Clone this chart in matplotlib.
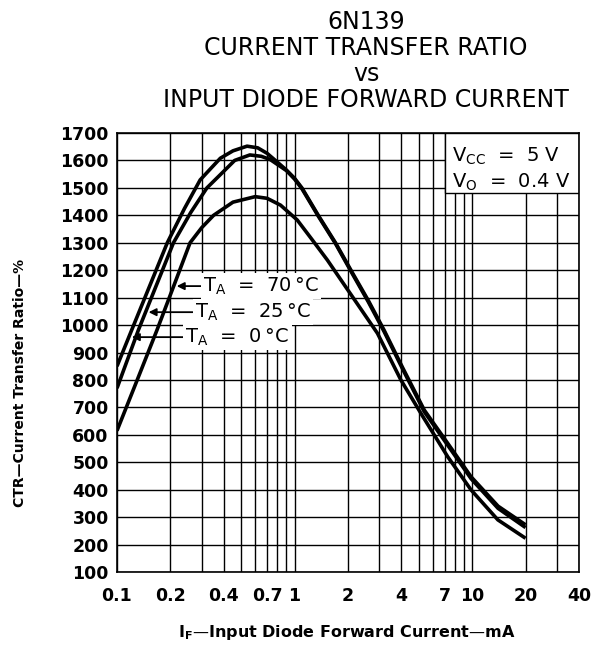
import numpy as np
import matplotlib
matplotlib.use('Agg')
import matplotlib.pyplot as plt
from matplotlib.ticker import LogLocator, FixedLocator, NullFormatter
from matplotlib.patches import Rectangle

# (IF in mA, CTR in %)
if_0c = [0.1, 0.121, 0.15, 0.192, 0.24, 0.294, 0.34, 0.382, 0.45, 0.54, 0.62, 0.70, 0.78,
         0.9, 1.0, 1.1, 1.36, 1.7, 2.12, 2.6, 3.19, 4.06, 5.38, 7.29, 9.87, 14.0, 20.0]
ctr_0c = [850, 982, 1130, 1300, 1425, 1529, 1573, 1608, 1635, 1652, 1646, 1626, 1600,
          1565, 1535, 1500, 1400, 1300, 1190, 1090, 982, 845, 690, 569, 447, 340, 272]

if_25c = [0.1, 0.132, 0.17, 0.208, 0.26, 0.321, 0.39, 0.46, 0.56, 0.65, 0.73,
          0.9, 1.0, 1.1, 1.36, 1.7, 2.12, 2.6, 3.19, 4.06, 5.38, 7.29, 9.87, 14.0, 20.0]
ctr_25c = [770, 982, 1159, 1300, 1410, 1500, 1554, 1600, 1620, 1615, 1603,
           1563, 1532, 1497, 1397, 1297, 1186, 1085, 977, 840, 684, 562, 440, 332, 262]

if_70c = [0.1, 0.13, 0.168, 0.21, 0.258, 0.3, 0.35, 0.45, 0.6, 0.7, 0.834, 1.035, 1.25,
          1.53, 2.12, 2.93, 3.97, 5.15, 7.29, 9.87, 13.97, 20.0]
ctr_70c = [615, 800, 982, 1147, 1300, 1355, 1400, 1448, 1468, 1462, 1437, 1383, 1313,
           1237, 1103, 970, 800, 678, 520, 399, 290, 223]

x_ticks = [0.1, 0.2, 0.4, 0.7, 1, 2, 4, 7, 10, 20, 40]
x_tick_labels = ['0.1', '0.2', '0.4', '0.7', '1', '2', '4', '7', '10', '20', '40']
y_ticks = list(range(100, 1800, 100))

labels = [r'$\mathregular{T_A}$  =  70' + '\u2009°C',
          r'$\mathregular{T_A}$  =  25' + '\u2009°C',
          r'$\mathregular{T_A}$  =  0' + '\u2009°C']
label_ctr = [1142, 1047, 956]

plt.rcParams['font.family'] = 'DejaVu Sans'
plt.rcParams['mathtext.default'] = 'regular'

fig = plt.figure(figsize=(5.92, 6.47), dpi=100)
ax = fig.add_axes([117/592, 1-572/647, (579-117)/592, (572-133)/647])

ax.set_xscale('log')
ax.set_xlim(0.1, 40)
ax.set_ylim(100, 1700)
ax.set_axisbelow(True)

ax.xaxis.set_major_locator(FixedLocator(x_ticks))
ax.set_xticklabels(x_tick_labels)
ax.xaxis.set_minor_locator(LogLocator(base=10, subs=range(1, 10)))
ax.xaxis.set_minor_formatter(NullFormatter())
ax.set_yticks(y_ticks)

ax.grid(True, which='both', axis='x', color='black', lw=1.0)
ax.grid(True, which='major', axis='y', color='black', lw=1.0)
ax.tick_params(which='both', length=0)
ax.tick_params(axis='x', pad=11)
ax.tick_params(axis='y', pad=6)
for t in ax.get_xticklabels() + ax.get_yticklabels():
    t.set_fontweight('bold')
    t.set_fontsize(12.5)
for s in ax.spines.values():
    s.set_color('black')
    s.set_linewidth(1.2)

curves = [(if_70c, ctr_70c), (if_25c, ctr_25c), (if_0c, ctr_0c)]
for xs, ys in curves:
    ax.plot(xs, ys, color='black', lw=2.6, solid_capstyle='butt', zorder=2)

# condition box in the upper right corner
ax.add_patch(Rectangle((7, 1480), 33, 220, facecolor='white', edgecolor='black',
                       lw=1.0, zorder=1.5))
ax.text(7.7, 1615, r'$\mathregular{V_{CC}}$  =  5 V', fontsize=14, va='center', ha='left', zorder=3)
ax.text(7.7, 1520, r'$\mathregular{V_{O}}$  =  0.4 V', fontsize=14, va='center', ha='left', zorder=3)

# temperature labels with arrows to their curves (arrow tip on rising part)
text_x = [0.305, 0.275, 0.243]
for (xs, ys), lab, yv, tx in zip(curves, labels, label_ctr, text_x):
    peak = int(np.argmax(ys))
    tip = 10 ** np.interp(yv, ys[:peak + 1], np.log10(xs[:peak + 1]))
    ax.annotate(lab, xy=(tip * 1.04, yv), xytext=(tx, yv), fontsize=14,
                va='center', ha='left', zorder=3,
                bbox=dict(boxstyle='square,pad=0.12', fc='white', ec='none'),
                arrowprops=dict(arrowstyle='-|>', color='black', lw=1.3,
                                mutation_scale=11, shrinkA=0, shrinkB=0))

fig.text(366/592, 1-10/647,
         '6N139\nCURRENT TRANSFER RATIO\nvs\nINPUT DIODE FORWARD CURRENT',
         ha='center', va='top', fontsize=17, linespacing=1.1)

fig.text(347/592, 1-633/647, r'$\mathregular{I_F}$—Input Diode Forward Current—mA',
         ha='center', va='center', fontsize=11.5, fontweight='bold')
fig.text(20/592, 1-383/647, 'CTR—Current Transfer Ratio—%',
         ha='center', va='center', rotation=90, fontsize=10, fontweight='bold')

fig.savefig('out.png', dpi=100)
